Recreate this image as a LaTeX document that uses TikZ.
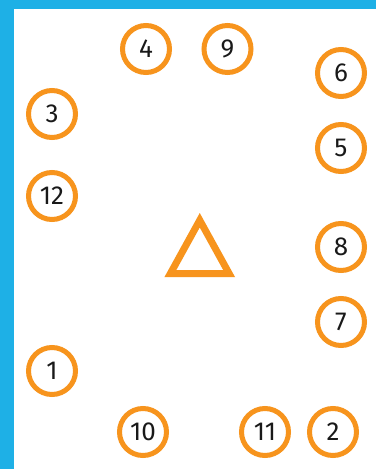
\documentclass[tikz,border=0pt]{standalone}
\usepackage{fontspec}
\setmainfont{Fira Sans}
\usepackage{tikz}
\usetikzlibrary{arrows.meta,positioning,calc}

\definecolor{bandblue}{HTML}{1EB0E6}
\definecolor{ringorange}{HTML}{F7941D}

\begin{document}
\begin{tikzpicture}[
  x=1pt,y=-1pt,
  ring/.style={circle,draw=ringorange,line width=5pt,minimum size=47pt,inner sep=0pt,
    font=\fontsize{26}{26}\selectfont,text=black!90},
  band/.style={fill=bandblue,draw=none}
]
  \useasboundingbox (0,0) rectangle (376,469);
  \fill[white] (0,0) rectangle (376,469);
  \path[band] (0,0) rectangle (376,9);
  \path[band] (0,0) rectangle (14,469);

  \node[ring] (n4) at (146,49) {4};
  \node[ring] (n9) at (227.5,49) {9};
  \node[ring] (n6) at (341,73) {6};
  \node[ring] (n3) at (52,114) {3};
  \node[ring] (n5) at (341,148) {5};
  \node[ring] (n12) at (52,196) {12};
  \node[ring] (n8) at (341,247) {8};
  \node[ring] (n7) at (341,322) {7};
  \node[ring] (n1) at (52,371) {1};
  \node[ring] (n10) at (143,432) {10};
  \node[ring] (n11) at (265,432) {11};
  \node[ring] (n2) at (333,432) {2};

  % triangle in the middle
  \draw[ringorange,line width=7pt,miter limit=10] (199.75,220.25) -- (229.1,273.5) -- (170.4,273.5) -- cycle;
\end{tikzpicture}
\end{document}
